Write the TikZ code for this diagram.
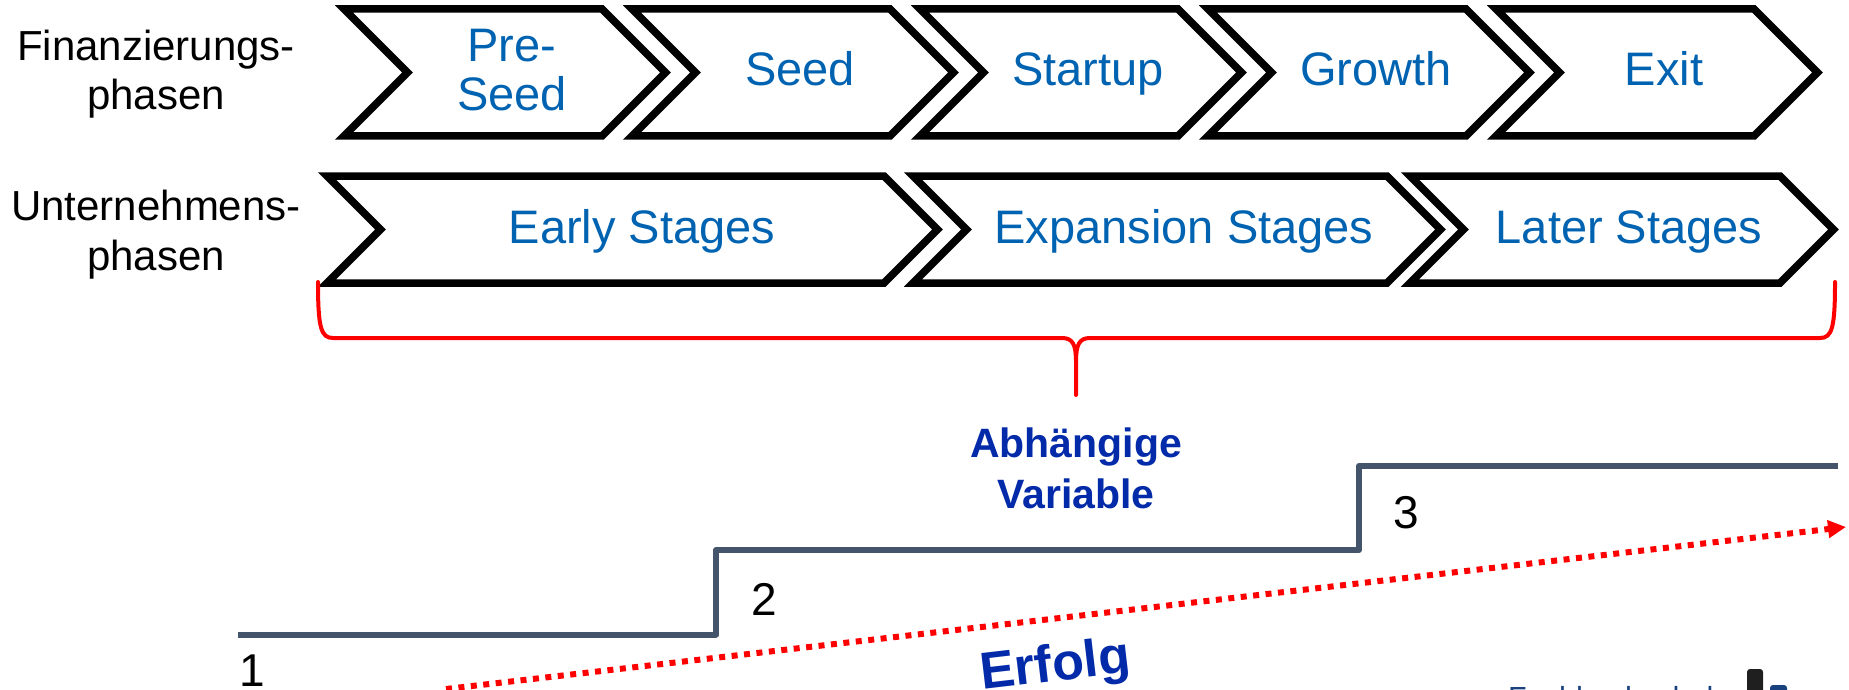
\documentclass[tikz,border=0pt]{standalone}
\usepackage{fontspec}
\setmainfont{Liberation Sans}
\usetikzlibrary{arrows.meta}
\definecolor{chevblue}{RGB}{0,99,177}
\definecolor{darkblue}{RGB}{3,42,168}
\definecolor{stepgray}{RGB}{68,84,106}
\definecolor{logoblue}{RGB}{25,65,125}
\newcommand{\fsz}[1]{\fontsize{#1}{#1}\selectfont}
\begin{document}
\begin{tikzpicture}[x=1pt,y=-1pt,
  chev/.style={draw=black, line width=7.5pt, line join=miter, fill=white},
  phase/.style={font=\fsz{47}, text=chevblue, inner sep=0pt, anchor=base},
  lbl/.style={font=\fsz{42}, text=black, inner sep=0pt, anchor=base},
  dv/.style={font=\bfseries\fsz{41}, text=darkblue, inner sep=0pt, anchor=base},
  num/.style={font=\fsz{46}, text=black, inner sep=0pt, anchor=base},
  bracepath/.style={draw=red, line width=4pt, line cap=round, line join=round},
  stair/.style={draw=stepgray, line width=6pt, line join=round},
  trend/.style={draw=red, line width=6pt, dash pattern=on 6pt off 6.5pt, -{Triangle[length=18pt,width=17pt]}},
]
\useasboundingbox (0,0) rectangle (1849,690);
\clip (0,0) rectangle (1849,690);

% row 1 chevrons
\foreach \i in {0,...,4} {
  \pgfmathsetmacro{\L}{344+288*\i}
  \draw[chev] (\L,9) -- (\L+258,9) -- (\L+321.5,72.5) -- (\L+258,136) -- (\L,136) -- (\L+63.5,72.5) -- cycle;
}
\node[phase] (preseedA) at (512,62) {Pre-};
\node[phase] (preseedB) at (512,111) {Seed};
\node[phase] (seed) at (800,86) {Seed};
\node[phase] (startup) at (1088,86) {Startup};
\node[phase] (growth) at (1376,86) {Growth};
\node[phase] (exit) at (1664,86) {Exit};

% row 2 chevrons
\foreach \L/\R in {327/884, 913/1387, 1410/1780} {
  \draw[chev] (\L,176) -- (\R,176) -- (\R+53.5,229.5) -- (\R,283) -- (\L,283) -- (\L+53.5,229.5) -- cycle;
}
\node[phase] (early) at (642,243) {Early Stages};
\node[phase] (expansion) at (1184,243) {Expansion Stages};
\node[phase] (later) at (1629,243) {Later Stages};

% left labels
\node[lbl] (finA) at (156,61) {Finanzierungs-};
\node[lbl] (finB) at (156,110) {phasen};
\node[lbl] (untA) at (156,220) {Unternehmens-};
\node[lbl] (untB) at (156,270) {phasen};

% brace
\coordinate (brL) at (318,282);
\coordinate (brM) at (1076,395);
\coordinate (brR) at (1835,282);
\draw[bracepath] (brL) .. controls (318,328) and (321,338) .. (333,338) -- (1062,338)
   .. controls (1073,338) and (1076,345) .. (1076,362) -- (brM) -- (1076,362)
   .. controls (1076,345) and (1079,338) .. (1090,338) -- (1820,338)
   .. controls (1832,338) and (1835,328) .. (brR);

\node[dv] (dvA) at (1076,457) {Abhängige};
\node[dv] (dvB) at (1076,508) {Variable};

% stairs
\coordinate (s1) at (238,634.5);
\coordinate (s2) at (716,634.5);
\coordinate (s3) at (716,550);
\coordinate (s4) at (1359,550);
\coordinate (s5) at (1359,466);
\coordinate (s6) at (1838,466);
\draw[stair] (s1) -- (s2) -- (s3) -- (s4) -- (s5) -- (s6);

\node[num] (n1) at (252,686) {1};
\node[num] (n2) at (764,615) {2};
\node[num] (n3) at (1406,528) {3};

% trend arrow
\coordinate (ta) at (446,689);
\coordinate (tb) at (1846,527);
\draw[trend] (ta) -- (tb);
\node[font=\bfseries\fsz{52}, text=darkblue, rotate=6.65, anchor=base, inner sep=0pt] (erfolg) at (1057,681) {Erfolg};

% logo (cut off)
\node[font=\fsz{30.5}, text=logoblue, anchor=base west, inner sep=0pt] (fh) at (1508,708) {Fachhochschule};
\fill[black!88, rounded corners=3pt] (1747,669) rectangle (1763,700);
\fill[logoblue, rounded corners=3pt] (1770,685) rectangle (1787,700);
\end{tikzpicture}
\end{document}
